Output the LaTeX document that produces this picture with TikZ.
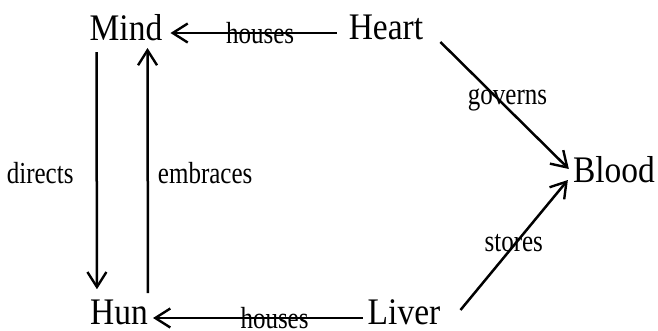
\documentclass[tikz,border=0pt]{standalone}
\usepackage{fontspec}
\setmainfont{Liberation Serif}
\usetikzlibrary{arrows.meta}
\newcommand{\tallc}[1]{\scalebox{1}[1.12]{#1}}
\newcommand{\talll}[1]{\scalebox{1}[1.22]{#1}}
\tikzset{
  concept/.style={inner sep=0pt, font=\fontsize{33.5}{36}\selectfont},
  lbl/.style={inner sep=0pt, font=\fontsize{25}{28}\selectfont},
  arr/.style={line width=2.5pt, -{Straight Barb[length=15pt,width=19pt,line width=2.4pt]}}
}
\begin{document}
\begin{tikzpicture}[x=1pt,y=-1pt]
\useasboundingbox (0,0) rectangle (658,330);
\node[concept, anchor=base] (mind) at (126,40) {\tallc{Mind}};
\node[concept, anchor=base] (heart) at (386,39) {\tallc{Heart}};
\node[concept, anchor=base] (blood) at (614,182) {\tallc{Blood}};
\node[concept, anchor=base] (hun) at (119,324) {\tallc{Hun}};
\node[concept, anchor=base] (liver) at (404,324) {\tallc{Liver}};

\draw[arr] ([xshift=-12pt,yshift=6pt]heart.base west) -- node[lbl, pos=0.46] (l1) {\talll{houses}} ([xshift=8pt,yshift=7pt]mind.base east);
\draw[arr] ([xshift=-5pt,yshift=6pt]liver.base west) -- node[lbl, pos=0.42] (l2) {\talll{houses}} ([xshift=5pt,yshift=6pt]hun.base east);
\draw[arr] ([xshift=7pt,yshift=-12pt]mind.base west) -- node[lbl, pos=0.51, anchor=east, xshift=-22pt] (l3) {\talll{directs}} ([xshift=7pt,yshift=10pt]hun.north west);
\draw[arr] ([xshift=58pt,yshift=6pt]hun.north west) -- node[lbl, pos=0.49, anchor=west, xshift=9pt] (l4) {\talll{embraces}} ([xshift=58pt,yshift=-8pt]mind.base west);
\draw[arr] ([xshift=17pt,yshift=-3pt]heart.base east) -- node[lbl, pos=0.46, xshift=8pt] (l5) {\talll{governs}} ([xshift=-4pt,yshift=13pt]blood.base west);
\draw[arr] ([xshift=20pt,yshift=14pt]liver.base east) -- node[lbl, pos=0.515, xshift=-2pt] (l6) {\talll{stores}} ([xshift=-5pt,yshift=2pt]blood.base west);
\end{tikzpicture}
\end{document}
